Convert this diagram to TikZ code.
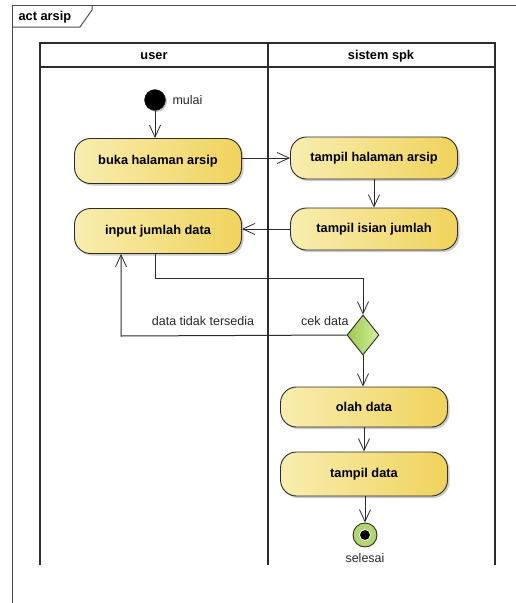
\documentclass[tikz,border=0pt]{standalone}
\usepackage{fontspec}
\setmainfont{Liberation Sans}
\usetikzlibrary{arrows.meta,shapes.geometric,shadows}
\definecolor{actL}{HTML}{F8EDB0}
\definecolor{actR}{HTML}{F0D35C}
\definecolor{decL}{HTML}{9CCB4E}
\definecolor{decR}{HTML}{D4EE9C}
\definecolor{edge}{HTML}{2B2B2B}
\tikzset{
  boldtxt/.style={font=\bfseries\fontsize{12.8}{15}\selectfont},
  action/.style={draw=edge, line width=0.9pt, rounded corners=16pt,
    minimum width=167pt, minimum height=45pt, left color=actL, right color=actR,
    boldtxt,
    drop shadow={shadow xshift=2pt, shadow yshift=-2pt, fill=black!35, opacity=0.6}},
  decision/.style={diamond, draw=edge, line width=0.9pt, aspect=0.8,
    minimum width=32pt, minimum height=40pt, inner sep=0pt,
    left color=decL, right color=decR},
  flow/.style={draw=edge, line width=1pt, -{Straight Barb[length=12pt,width=11pt,line width=0.8pt]}},
  lane/.style={draw=edge, line width=1.3pt},
  lbl/.style={font=\fontsize{12.5}{15}\selectfont, text=black!85},
}
\begin{document}
\begin{tikzpicture}[x=1pt,y=-1pt]
\useasboundingbox (0,0) rectangle (516,603);
% outer activity frame
\draw[draw=black!70, line width=1pt] (12,603) -- (12,5) -- (516,5);
\draw[draw=black!70, line width=1pt] (12,27) -- (80,27) -- (92,10) -- (92,5);
\node[boldtxt, anchor=west] (frametitle) at (15,17) {act arsip};
% swimlanes
\draw[lane] (40,565) -- (40,43) -- (495,43) -- (495,565);
\draw[lane] (40,67) -- (495,67);
\draw[lane] (268,43) -- (268,565);
\node[boldtxt] (laneuser) at (154,56) {user};
\node[boldtxt] (lanesys) at (381,56) {sistem spk};
% nodes
\node[circle, fill=black, draw=edge, minimum size=21pt, inner sep=0pt,
  drop shadow={shadow xshift=1.5pt, shadow yshift=-1.5pt, fill=black!35, opacity=0.6}] (start) at (155,100) {};
\node[lbl, anchor=west] (startlbl) at (169,100) {mulai};
\node[action] (buka) at (158,161) {buka halaman arsip};
\node[action, minimum height=42pt] (thal) at (374,158) {tampil halaman arsip};
\node[action, minimum height=42pt] (tisi) at (374,229) {tampil isian jumlah};
\node[action] (input) at (158,231) {input jumlah data};
\node[decision] (cek) at (363,335) {};
\node[lbl, anchor=east] (ceklbl) at (352,321) {cek data};
\node[lbl] (tidak) at (203,321) {data tidak tersedia};
\node[action, minimum height=40pt] (olah) at (364,407) {olah data};
\node[action, minimum height=44pt] (tdata) at (364,474) {tampil data};
\node[circle, fill=decL!80, draw=edge, line width=0.9pt, minimum size=24pt, inner sep=0pt] (end) at (365,535) {};
\node[circle, fill=black, minimum size=11pt, inner sep=0pt, draw=white, line width=0.8pt] (enddot) at (end) {};
\node[lbl] (endlbl) at (365,558) {selesai};
% flows
\draw[flow] (start) -- (start |- buka.north);
\draw[flow] (buka.east |- thal) -- (thal.west);
\draw[flow] (thal) -- (tisi);
\draw[flow] (tisi.west) -- (input.east |- tisi.west);
\coordinate (c1) at (155,278);
\draw[flow] (input.south -| c1) -- (c1) -| (cek.north);
\coordinate (c2) at (121,336);
\draw[flow] (cek.west) -- (c2) -- (c2 |- input.south);
\draw[flow] (cek.south) -- (cek.south |- olah.north);
\draw[flow] (olah) -- (tdata);
\draw[flow] (tdata.south -| end) -- (end.north);
\end{tikzpicture}
\end{document}
